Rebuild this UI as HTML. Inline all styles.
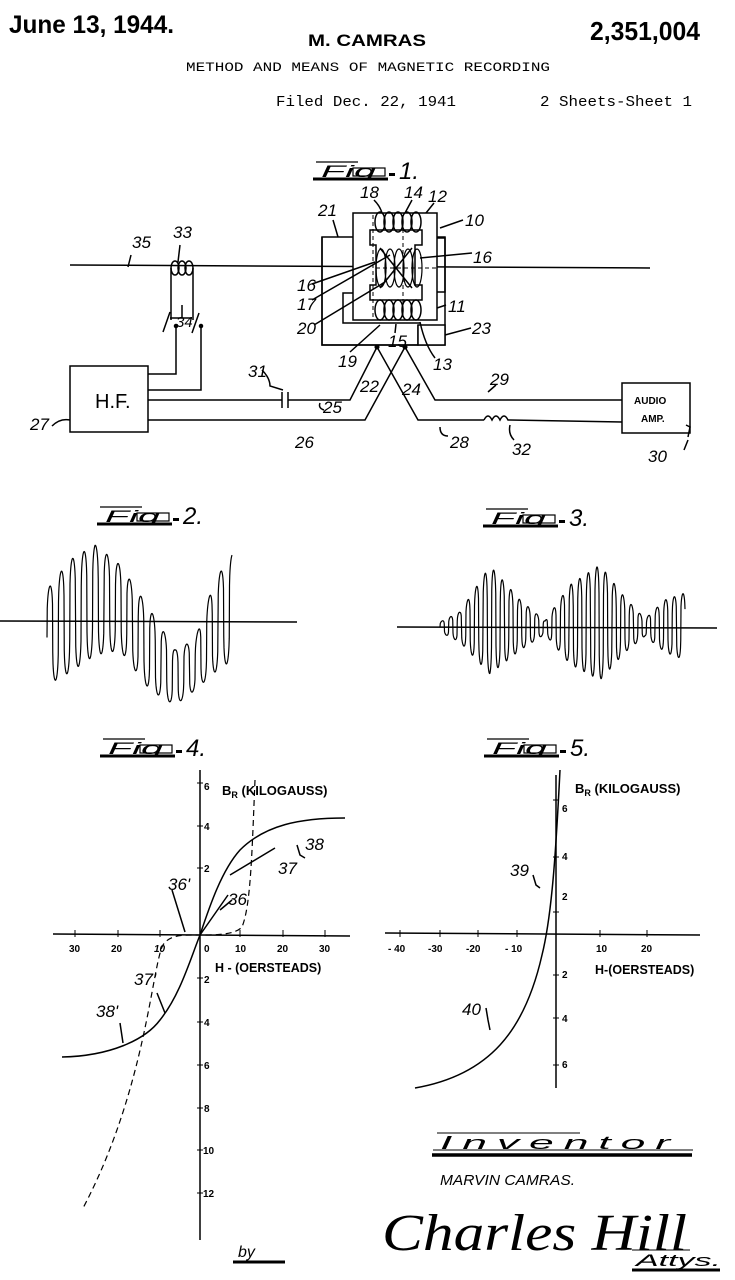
<!DOCTYPE html>
<html><head><meta charset="utf-8"><style>
html,body{margin:0;padding:0;background:#fff;}
svg{display:block;}
text{font-family:"Liberation Sans",sans-serif;fill:#000;}
.lbl{font-style:italic;font-size:17px;}
.sm{font-size:10px;font-weight:bold;}
</style></head><body>
<svg id="s" width="735" height="1280" viewBox="0 0 735 1280" xmlns="http://www.w3.org/2000/svg" fill="none" stroke="#000" stroke-width="1.5">
<g stroke="none">
<text x="9" y="33" font-size="25" font-weight="bold" textLength="165" lengthAdjust="spacingAndGlyphs">June 13, 1944.</text>
<text x="308" y="46" font-size="17" font-weight="bold" textLength="118" lengthAdjust="spacingAndGlyphs">M. CAMRAS</text>
<text x="590" y="40" font-size="26" font-weight="bold" textLength="110" lengthAdjust="spacingAndGlyphs">2,351,004</text>
<text x="186" y="71" font-size="13" style="font-family:'Liberation Mono',monospace" textLength="364" lengthAdjust="spacingAndGlyphs">METHOD AND MEANS OF MAGNETIC RECORDING</text>
<text x="276" y="106" font-size="15" style="font-family:'Liberation Mono',monospace" textLength="180" lengthAdjust="spacingAndGlyphs">Filed Dec. 22, 1941</text>
<text x="540" y="106" font-size="15" style="font-family:'Liberation Mono',monospace" textLength="152" lengthAdjust="spacingAndGlyphs">2 Sheets-Sheet 1</text>
</g>

<g id="figlabels"></g>

<!-- FIG 1 -->
<line x1="70" y1="265" x2="650" y2="268"/>
<ellipse cx="175" cy="268" rx="4" ry="7"/><ellipse cx="182" cy="268" rx="4" ry="7"/><ellipse cx="189" cy="268" rx="4" ry="7"/>
<path d="M171,268 L171,320 M193,268 L193,320"/>
<path d="M163,332 L170,312 M192,333 L199,313 M170,318 L182,318 L182,305 M182,318 L192,318"/>
<circle cx="176" cy="326" r="1.5" fill="#000"/><circle cx="201" cy="326" r="1.5" fill="#000"/>
<path d="M176,326 L176,374 L148,374 M201,326 L201,390 L148,390"/>
<rect x="70" y="366" width="78" height="66"/>
<text x="95" y="408" font-size="20" stroke="none">H.F.</text>
<path d="M148,400 L282,400 M288,400 L350,400 L377,347 M282,392 L282,408 M288,392 L288,408"/>
<path d="M148,420 L365,420 L405,347"/>
<path d="M377,347 L418,420 L484,420 M510,420 L622,422"/>
<path d="M405,347 L435,400 L622,400"/>
<circle cx="377" cy="347" r="1.8" fill="#000"/><circle cx="405" cy="347" r="1.8" fill="#000"/>
<path d="M484,420 q4,-8 8,0 q4,-8 8,0 q4,-8 8,0 l2,0"/>
<rect x="622" y="383" width="68" height="50"/>
<text x="634" y="404" font-size="10" font-weight="bold" stroke="none">AUDIO</text>
<text x="641" y="422" font-size="10" font-weight="bold" stroke="none">AMP.</text>
<path d="M686,425 L690,427 L688,437"/>
<!-- head -->
<rect x="322" y="237" width="123" height="108"/>
<rect x="353" y="213" width="84" height="107" fill="#fff"/>
<path d="M437,238 L445,238 L445,292 L437,292"/>
<path d="M322,237 L322,345 L418,345 L418,325"/>
<rect x="418" y="325" width="27" height="20" fill="#fff"/>
<path d="M353,293 L343,293 L343,323 L420,323"/>
<path d="M370,230 L422,230 L422,245 L415,245 L415,285 L422,285 L422,300 L370,300 L370,285 L376,285 L376,245 L370,245 Z"/>
<path d="M373,215 L373,320 M403,215 L403,320" stroke-dasharray="4,3" stroke-width="1"/>
<path d="M376,268 L437,268" stroke-dasharray="4,3" stroke-width="1"/>
<g id="coils"></g>
<path d="M380,248 L412,288 M412,248 L380,288"/>
<!-- fig1 leaders -->
<path d="M333,220 Q336,230 338,237 M374,200 Q380,206 382,213 M412,200 L405,213 M434,203 L426,213 M463,220 L440,228 M472,253 L420,258 M446,305 L437,308 M312,284 L375,262 M312,300 L390,255 M314,325 L385,282 M471,328 L445,335 M420,322 Q425,345 435,358 M350,352 L380,325 M395,333 L396,324 M131,255 L128,267 M180,245 L178,262 M52,426 Q60,418 70,420 M262,370 Q270,378 270,386 L283,390 M320,403 Q318,408 324,410 M488,392 L496,385 M440,427 Q440,436 448,436 M510,425 Q508,434 514,440 M688,440 L684,450"/>
<g class="lbl" stroke="none" font-size="17">
<text x="132" y="248">35</text><text x="173" y="238">33</text><text x="176" y="327" font-size="15">34</text>
<text x="318" y="216">21</text><text x="360" y="198">18</text><text x="404" y="198">14</text><text x="428" y="202">12</text><text x="465" y="226">10</text>
<text x="473" y="263">16</text><text x="297" y="291">16</text><text x="297" y="310">17</text><text x="297" y="334">20</text>
<text x="448" y="312">11</text><text x="472" y="334">23</text>
<text x="338" y="367">19</text><text x="388" y="347">15</text><text x="433" y="370">13</text>
<text x="360" y="392">22</text><text x="402" y="395">24</text><text x="323" y="413">25</text><text x="295" y="448">26</text>
<text x="490" y="385">29</text><text x="450" y="448">28</text><text x="512" y="455">32</text><text x="648" y="462">30</text>
<text x="248" y="377">31</text><text x="30" y="430">27</text>
</g>

<!-- FIG 2 / 3 -->
<line x1="0" y1="621" x2="297" y2="622"/>
<line x1="397" y1="627" x2="717" y2="628"/>
<path id="w2" stroke-width="1.2"/><path id="w3" stroke-width="1.2"/>

<!-- FIG 4 -->
<line x1="200" y1="770" x2="200" y2="1240"/>
<line x1="53" y1="934" x2="350" y2="936"/>
<g stroke-width="1">
<path d="M75,930 v7 M118,930 v7 M160,930 v7 M240,930 v7 M283,930 v7 M325,930 v7"/>
<path d="M197,826 h6 M197,868 h6 M197,978 h6 M197,1022 h6 M197,1065 h6 M197,1108 h6 M197,1150 h6 M197,1193 h6 M197,783 h6"/>
</g>
<path d="M62,1057 C110,1056 145,1040 160,1020 C180,995 190,960 200,935 C210,905 222,870 240,850 C265,825 300,818 345,818"/>
<path d="M255,780 C252,850 251,905 242,927 C235,935 215,935 200,935 C185,935 170,934 163,945 C152,965 146,1090 82,1210" stroke-dasharray="6,4" stroke-width="1.2"/>
<path d="M200,935 L228,895 M220,910 L232,900 M230,875 L275,848 M297,845 L300,855 L305,858 M172,890 L185,932 M157,993 L165,1013 M120,1023 L123,1043"/>
<g stroke="none">
<text x="222" y="795" font-size="13" font-weight="bold">B<tspan font-size="9" dy="3">R</tspan><tspan dy="-3"> (KILOGAUSS)</tspan></text>
<text x="215" y="972" font-size="12.5" font-weight="bold">H - (OERSTEADS)</text>
<g class="sm"><text x="69" y="952">30</text><text x="111" y="952">20</text><text x="154" y="952" font-style="italic">10</text><text x="204" y="952">0</text><text x="235" y="952">10</text><text x="277" y="952">20</text><text x="319" y="952">30</text>
<text x="204" y="790">6</text><text x="204" y="830">4</text><text x="204" y="872">2</text><text x="204" y="983">2</text><text x="204" y="1026">4</text><text x="204" y="1069">6</text><text x="204" y="1112">8</text><text x="203" y="1154">10</text><text x="203" y="1197">12</text></g>
<g class="lbl"><text x="305" y="850">38</text><text x="278" y="874">37</text><text x="228" y="905">36</text><text x="168" y="890">36'</text><text x="134" y="985">37'</text><text x="96" y="1017">38'</text></g>
</g>

<!-- FIG 5 -->
<line x1="556" y1="775" x2="556" y2="1088"/>
<line x1="385" y1="933" x2="700" y2="935"/>
<g stroke-width="1">
<path d="M400,930 v7 M440,930 v7 M478,930 v7 M517,930 v7 M600,930 v7 M647,930 v7"/>
<path d="M553,800 h6 M553,857 h6 M553,912 h6 M553,975 h6 M553,1018 h6 M553,1065 h6"/>
</g>
<path d="M560,770 C556,850 552,915 542,955 C525,1030 490,1075 415,1088"/>
<path d="M533,875 L536,885 L540,888 M486,1008 L488,1020 L490,1030"/>
<g stroke="none">
<text x="575" y="793" font-size="13" font-weight="bold">B<tspan font-size="9" dy="3">R</tspan><tspan dy="-3"> (KILOGAUSS)</tspan></text>
<text x="595" y="974" font-size="12.5" font-weight="bold">H-(OERSTEADS)</text>
<g class="sm"><text x="388" y="952">- 40</text><text x="428" y="952">-30</text><text x="466" y="952">-20</text><text x="505" y="952">- 10</text><text x="596" y="952">10</text><text x="641" y="952">20</text>
<text x="562" y="812">6</text><text x="562" y="860">4</text><text x="562" y="900">2</text><text x="562" y="978">2</text><text x="562" y="1022">4</text><text x="562" y="1068">6</text></g>
<g class="lbl"><text x="510" y="876">39</text><text x="462" y="1015">40</text></g>
</g>

<!-- signature area -->
<path d="M437,1133 L580,1133 M433,1150 L693,1150" stroke-width="1"/>
<path d="M432,1155 L692,1155" stroke-width="3.5"/>
<text x="440" y="1149" font-size="18" font-style="italic" stroke="none" textLength="240" lengthAdjust="spacingAndGlyphs" letter-spacing="4">Inventor</text>
<text x="440" y="1185" font-size="15" font-style="italic" stroke="none" textLength="135" lengthAdjust="spacingAndGlyphs">MARVIN CAMRAS.</text>
<text x="382" y="1250" font-size="52" font-style="italic" stroke="none" style="font-family:'Liberation Serif',serif" textLength="305" lengthAdjust="spacingAndGlyphs">Charles Hill</text>
<path d="M632,1270 L720,1270" stroke-width="3"/><path d="M632,1250 L690,1250" stroke-width="1"/>
<text x="636" y="1266" font-size="17" font-style="italic" stroke="none" textLength="85" lengthAdjust="spacingAndGlyphs">Attys.</text>
<path d="M233,1262 L285,1262" stroke-width="3"/>
<text x="238" y="1257" font-size="16" font-style="italic" stroke="none">by</text>
</svg>
<script>
(function(){
var NS="http://www.w3.org/2000/svg",s=document.getElementById('s');
function el(t,a,p){var e=document.createElementNS(NS,t);for(var k in a)e.setAttribute(k,a[k]);(p||s).appendChild(e);return e;}
var fl=document.getElementById('figlabels');
[[313,160,"1."],[97,505,"2."],[483,507,"3."],[100,737,"4."],[484,737,"5."]].forEach(function(f){
 var x=f[0],y=f[1];
 el('line',{x1:x+3,y1:y+2,x2:x+45,y2:y+2,'stroke-width':1.2},fl);
 el('line',{x1:x,y1:y+19,x2:x+75,y2:y+19,'stroke-width':3},fl);
 var t=el('text',{x:x+8,y:y+17,'font-size':17,'font-style':'italic',stroke:'none',textLength:55,lengthAdjust:'spacingAndGlyphs'},fl);
 t.textContent="Fig";
 el('rect',{x:x+40,y:y+8,width:32,height:8,'stroke-width':1.2},fl);
 el('rect',{x:x+76,y:y+13,width:6,height:3,fill:'#000',stroke:'none'},fl);
 var n=el('text',{x:x+86,y:y+19,'font-size':24,'font-style':'italic',stroke:'none'},fl);n.textContent=f[2];
});
var c=document.getElementById('coils');
[380,389,398,407,416].forEach(function(x){
 el('ellipse',{cx:x,cy:222,rx:5,ry:10,fill:'none'},c);
 el('ellipse',{cx:x,cy:310,rx:5,ry:10,fill:'none'},c);
 el('ellipse',{cx:x+1,cy:268,rx:5,ry:19,fill:'none','stroke-width':1.2},c);
});
function wave(id,pts,x0,x1,per){
 function env(x){for(var i=0;i<pts.length-1;i++){if(x<=pts[i+1][0]){var a=pts[i],b=pts[i+1],t=(x-a[0])/(b[0]-a[0]);return [a[1]+(b[1]-a[1])*t,a[2]+(b[2]-a[2])*t];}}var l=pts[pts.length-1];return [l[1],l[2]];}
 var d="";
 for(var x=x0;x<=x1;x+=0.25){
  var e=env(x),ph=Math.sin(2*Math.PI*(x-x0)/per),v=Math.sign(ph)*Math.pow(Math.abs(ph),0.25);
  var y=(e[0]+e[1])/2-(e[1]-e[0])/2*v;
  d+=(d?"L":"M")+x.toFixed(2)+","+y.toFixed(2);
 }
 document.getElementById(id).setAttribute('d',d);
}
wave('w2',[[47,590,685],[70,560,672],[95,545,655],[120,565,650],[150,610,690],[175,650,705],[195,640,690],[215,580,672],[232,555,660]],47,232,11.4);
wave('w3',[[440,622,632],[460,612,642],[490,566,674],[520,600,650],[545,621,634],[570,585,664],[600,565,680],[625,598,652],[645,619,636],[665,600,652],[685,593,660]],440,685,8.6);
})();
</script>
</body></html>
